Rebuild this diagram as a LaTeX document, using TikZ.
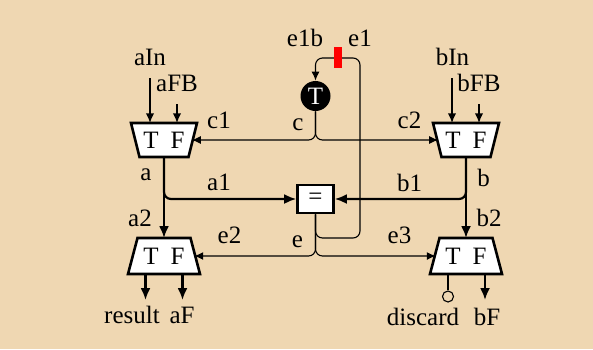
\documentclass[tikz,border=0pt]{standalone}
\usepackage{fontspec}
\setmainfont{Liberation Serif}
\usetikzlibrary{arrows.meta}
\definecolor{bg}{RGB}{239,215,178}
\begin{document}
\begin{tikzpicture}[x=0.5pt,y=-0.5pt,
  txt/.style={font=\fontsize{12.5}{14}\selectfont},
  lbl/.style={txt, inner sep=0pt, anchor=base},
  thinln/.style={line width=0.55pt},
  thinarr/.style={line width=0.55pt,-{Latex[length=4.5pt,width=4pt]}},
  inarr/.style={line width=0.7pt,-{Latex[length=4.8pt,width=4.2pt]}},
  thickarr/.style={line width=1.1pt,-{Latex[length=6pt,width=5pt]}},
  muxtop/.style={rectangle, minimum width=33pt, minimum height=17pt,
    inner sep=0pt, outer sep=0pt, txt},
  muxbot/.style={rectangle, minimum width=36pt, minimum height=18pt,
    inner sep=0pt, outer sep=0pt, txt},
  muxline/.style={draw, line width=1.3pt, fill=white, line join=miter},
  eqbox/.style={rectangle, draw, line width=1.3pt, fill=white,
    minimum width=18pt, minimum height=14pt, inner sep=0pt, txt},
  tnode/.style={circle, fill=black, text=white, minimum size=15pt,
    inner sep=0pt, txt},
  redmark/.style={rectangle, fill=red, minimum width=4pt, minimum height=10.5pt,
    inner sep=0pt},
  disc/.style={circle, draw, line width=0.55pt, minimum size=5.5pt, inner sep=0pt},
  rc/.style={rounded corners=3.5pt}
]
\fill[bg] (0,0) rectangle (593,349);

% mux frames (nodes) and outlines
\node[muxtop] (mA) at (164,140) {};
\node[muxtop] (mB) at (466,140) {};
\node[muxbot] (mC) at (164,256) {};
\node[muxbot] (mD) at (466,256) {};
\foreach \m in {mA,mB}{
  \path[muxline] (\m.north west) -- (\m.north east)
    -- ([xshift=-4.25pt]\m.south east) -- ([xshift=4.25pt]\m.south west) -- cycle;
  \node[txt] at (\m) {T\hspace{6pt}F};
}
\foreach \m in {mC,mD}{
  \path[muxline] ([xshift=4.75pt]\m.north west) -- ([xshift=-4.75pt]\m.north east)
    -- (\m.south east) -- (\m.south west) -- cycle;
  \node[txt] at (\m) {T\hspace{6pt}F};
}
\coordinate (mAr) at ([xshift=-2.6pt]mA.east);
\coordinate (mBl) at ([xshift=2.6pt]mB.west);
\coordinate (mCr) at ([xshift=-2.9pt]mC.east);
\coordinate (mDl) at ([xshift=2.9pt]mD.west);

\node[eqbox] (eq) at (315.5,199) {=};
\node[tnode] (T) at (315.5,96) {T};

% labels
\node[lbl] (aIn) at (150,65.5) {aIn};
\node[lbl] (aFB) at (177,91.5) {aFB};
\node[lbl] (bIn) at (452.5,65.5) {bIn};
\node[lbl] (bFB) at (479,91.5) {bFB};
\node[lbl] (c1) at (219,128) {c1};
\node[lbl] (c2) at (409.5,128) {c2};
\node[lbl] (c) at (298,130) {c};
\node[lbl] (e1b) at (305,46.5) {e1b};
\node[lbl] (e1) at (360,46.5) {e1};
\node[lbl] (a) at (146,180.5) {a};
\node[lbl] (a1) at (219,190.5) {a1};
\node[lbl] (a2) at (140,226.5) {a2};
\node[lbl] (e2) at (229.5,243) {e2};
\node[lbl] (e) at (297.5,247) {e};
\node[lbl] (b1) at (409.5,191) {b1};
\node[lbl] (b) at (483.5,186) {b};
\node[lbl] (b2) at (489,226.5) {b2};
\node[lbl] (e3) at (399.5,243) {e3};
\node[lbl] (result) at (132,323) {result};
\node[lbl] (aF) at (182,323) {aF};
\node[lbl] (discard) at (423,325) {discard};
\node[lbl] (bF) at (487,325) {bF};

% free ends
\coordinate (aInS) at (150,78);
\coordinate (aFBS) at (177,104);
\coordinate (bInS) at (452,78);
\coordinate (bFBS) at (479,104);
\coordinate (resE) at (145.5,300);
\coordinate (aFE) at (182.5,300);
\coordinate (bFE) at (485,300);
\coordinate (e1a) at (360,238);
\coordinate (e1t) at (360,58);

% inputs
\draw[inarr] (aInS) -- (aInS |- mA.north);
\draw[inarr] (aFBS) -- (aFBS |- mA.north);
\draw[inarr] (bInS) -- (bInS |- mB.north);
\draw[inarr] (bFBS) -- (bFBS |- mB.north);

% a and b
\draw[thickarr] (mA.south) -- (mC.north);
\draw[thickarr, rc] (mA.south) |- (eq.west);
\draw[thickarr] (mB.south) -- (mD.north);
\draw[thickarr, rc] (mB.south) |- (eq.east);

% c
\draw[thinarr, rc] (T.south) |- (mAr);
\draw[thinarr, rc] (T.south) |- (mBl);

% e
\draw[thinarr, rc] (eq.south) |- (mCr);
\draw[thinarr, rc] (eq.south) |- (mDl);
\draw[thinarr, rc] (eq.south) |- (e1a) -- (e1t) -| (T.north);
\node[redmark] (cut) at (338,57.5) {};

% outputs
\draw[thickarr] (resE |- mC.south) -- (resE);
\draw[thickarr] (aFE |- mC.south) -- (aFE);
\draw[thickarr] (bFE |- mD.south) -- (bFE);
\node[disc] (dc) at (448,296.5) {};
\draw[thinln] (dc |- mD.south) -- (dc.north);
\end{tikzpicture}
\end{document}
